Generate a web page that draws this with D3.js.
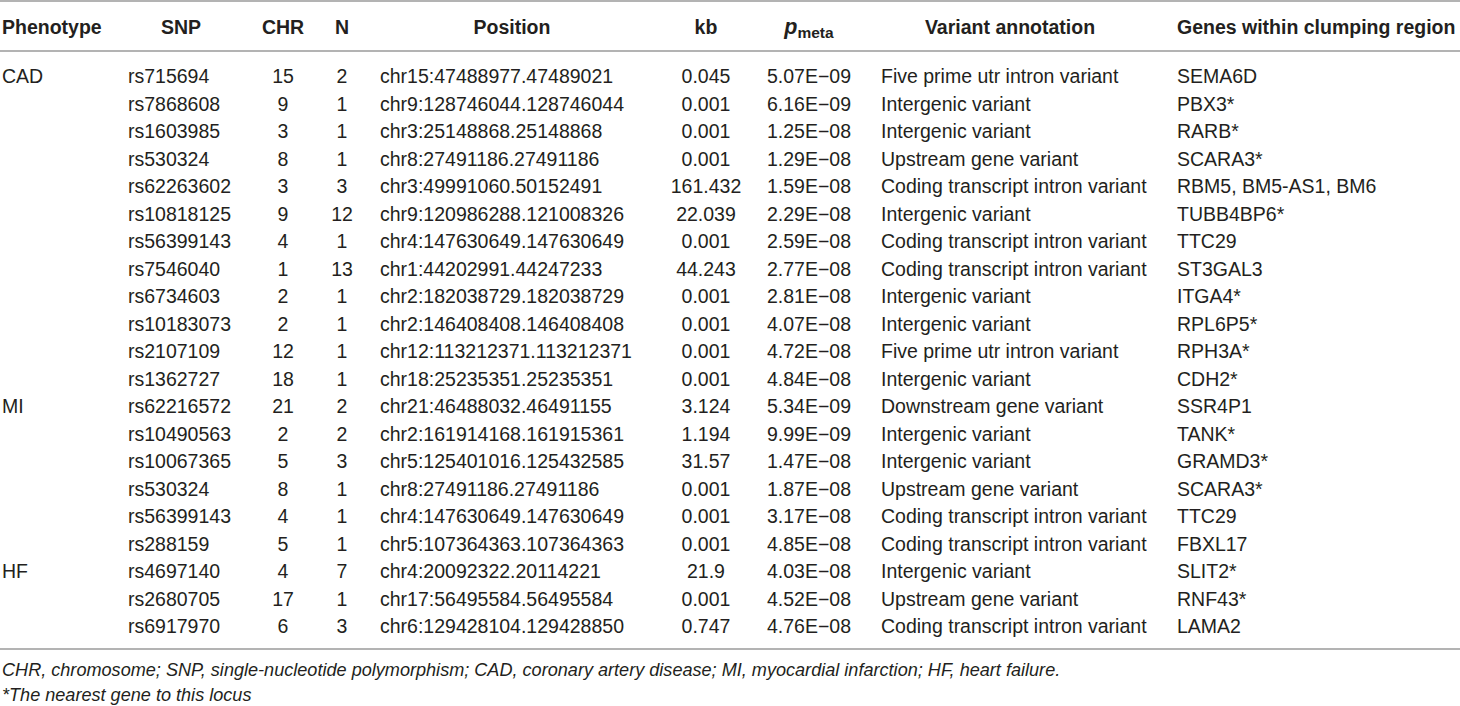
<!DOCTYPE html>
<html>
<head>
<meta charset="utf-8">
<script src="https://cdn.jsdelivr.net/npm/d3@7"></script>
<style>
  html, body { margin: 0; padding: 0; background: #fff; }
  svg { display: block; }
  text { font-family: "Liberation Sans", Arial, Helvetica, sans-serif; fill: #231f20; }
</style>
</head>
<body>
<svg id="chart" width="1460" height="706"></svg>
<script>
// ---- Data ----
const phenotypes = ["CAD","","","","","","","","","","","","MI","","","","","","HF","",""];
const snps = ["rs715694","rs7868608","rs1603985","rs530324","rs62263602","rs10818125","rs56399143","rs7546040","rs6734603","rs10183073","rs2107109","rs1362727","rs62216572","rs10490563","rs10067365","rs530324","rs56399143","rs288159","rs4697140","rs2680705","rs6917970"];
const chrs = ["15","9","3","8","3","9","4","1","2","2","12","18","21","2","5","8","4","5","4","17","6"];
const ns = ["2","1","1","1","3","12","1","13","1","1","1","1","2","2","3","1","1","1","7","1","3"];
const positions = ["chr15:47488977.47489021","chr9:128746044.128746044","chr3:25148868.25148868","chr8:27491186.27491186","chr3:49991060.50152491","chr9:120986288.121008326","chr4:147630649.147630649","chr1:44202991.44247233","chr2:182038729.182038729","chr2:146408408.146408408","chr12:113212371.113212371","chr18:25235351.25235351","chr21:46488032.46491155","chr2:161914168.161915361","chr5:125401016.125432585","chr8:27491186.27491186","chr4:147630649.147630649","chr5:107364363.107364363","chr4:20092322.20114221","chr17:56495584.56495584","chr6:129428104.129428850"];
const kbs = ["0.045","0.001","0.001","0.001","161.432","22.039","0.001","44.243","0.001","0.001","0.001","0.001","3.124","1.194","31.57","0.001","0.001","0.001","21.9","0.001","0.747"];
const pmetas = ["5.07E\u221209","6.16E\u221209","1.25E\u221208","1.29E\u221208","1.59E\u221208","2.29E\u221208","2.59E\u221208","2.77E\u221208","2.81E\u221208","4.07E\u221208","4.72E\u221208","4.84E\u221208","5.34E\u221209","9.99E\u221209","1.47E\u221208","1.87E\u221208","3.17E\u221208","4.85E\u221208","4.03E\u221208","4.52E\u221208","4.76E\u221208"];
const annotations = ["Five prime utr intron variant","Intergenic variant","Intergenic variant","Upstream gene variant","Coding transcript intron variant","Intergenic variant","Coding transcript intron variant","Coding transcript intron variant","Intergenic variant","Intergenic variant","Five prime utr intron variant","Intergenic variant","Downstream gene variant","Intergenic variant","Intergenic variant","Upstream gene variant","Coding transcript intron variant","Coding transcript intron variant","Intergenic variant","Upstream gene variant","Coding transcript intron variant"];
const genes = ["SEMA6D","PBX3*","RARB*","SCARA3*","RBM5, BM5-AS1, BM6","TUBB4BP6*","TTC29","ST3GAL3","ITGA4*","RPL6P5*","RPH3A*","CDH2*","SSR4P1","TANK*","GRAMD3*","SCARA3*","TTC29","FBXL17","SLIT2*","RNF43*","LAMA2"];
const headers = ["Phenotype","SNP","CHR","N","Position","kb","p","Variant annotation","Genes within clumping region"];
const footnotes = ["CHR, chromosome; SNP, single-nucleotide polymorphism; CAD, coronary artery disease; MI, myocardial infarction; HF, heart failure.","*The nearest gene to this locus"];

// ---- Layout ----
const W = 1460, H = 706;
const FS = 19.5;
const svg = d3.select("#chart");

const columns = [
  {key: "ph",  vals: phenotypes,  dx: 2,    anchor: "start",  hx: 2,    hanchor: "start"},
  {key: "snp", vals: snps,        dx: 128,  anchor: "start",  hx: 181,  hanchor: "middle"},
  {key: "chr", vals: chrs,        dx: 283,  anchor: "middle", hx: 283,  hanchor: "middle"},
  {key: "n",   vals: ns,          dx: 342,  anchor: "middle", hx: 342,  hanchor: "middle"},
  {key: "pos", vals: positions,   dx: 380,  anchor: "start",  hx: 512,  hanchor: "middle"},
  {key: "kb",  vals: kbs,         dx: 706,  anchor: "middle", hx: 706,  hanchor: "middle"},
  {key: "p",   vals: pmetas,      dx: 809,  anchor: "middle", hx: 809,  hanchor: "middle"},
  {key: "ann", vals: annotations, dx: 881,  anchor: "start",  hx: 1010, hanchor: "middle"},
  {key: "gen", vals: genes,       dx: 1177, anchor: "start",  hx: 1177, hanchor: "start"}
];

const y = d3.scaleLinear().domain([0, snps.length - 1]).range([83, 633]);
const headerY = 34;

// rules
const rules = [1, 51, 649];
svg.selectAll("line.rule").data(rules).join("line")
  .attr("class", "rule")
  .attr("x1", 0).attr("x2", W)
  .attr("y1", d => d).attr("y2", d => d)
  .attr("stroke", "#9a9a9a").attr("stroke-width", 1.5);

// headers
const hg = svg.append("g").attr("class", "headers");
columns.forEach((c, i) => {
  const t = hg.append("text")
    .attr("x", c.hx).attr("y", headerY)
    .attr("text-anchor", c.hanchor)
    .attr("font-size", FS).attr("font-weight", "bold");
  if (c.key === "p") {
    t.append("tspan").attr("font-style", "italic").attr("font-size", FS + 2).text(headers[i]);
    t.append("tspan").attr("font-size", FS - 4).attr("dy", 4).text("meta");
  } else {
    t.text(headers[i]);
  }
});

// body cells
const bg = svg.append("g").attr("class", "body");
columns.forEach(c => {
  bg.selectAll("text." + c.key).data(c.vals).join("text")
    .attr("class", c.key)
    .attr("x", c.dx)
    .attr("y", (d, i) => y(i))
    .attr("text-anchor", c.anchor)
    .attr("font-size", FS)
    .text(d => d);
});

// footnotes
svg.selectAll("text.foot").data(footnotes).join("text")
  .attr("class", "foot")
  .attr("x", 2)
  .attr("y", (d, i) => 676 + i * 25)
  .attr("font-size", 18.1)
  .attr("font-style", "italic")
  .text(d => d);
</script>
</body>
</html>
